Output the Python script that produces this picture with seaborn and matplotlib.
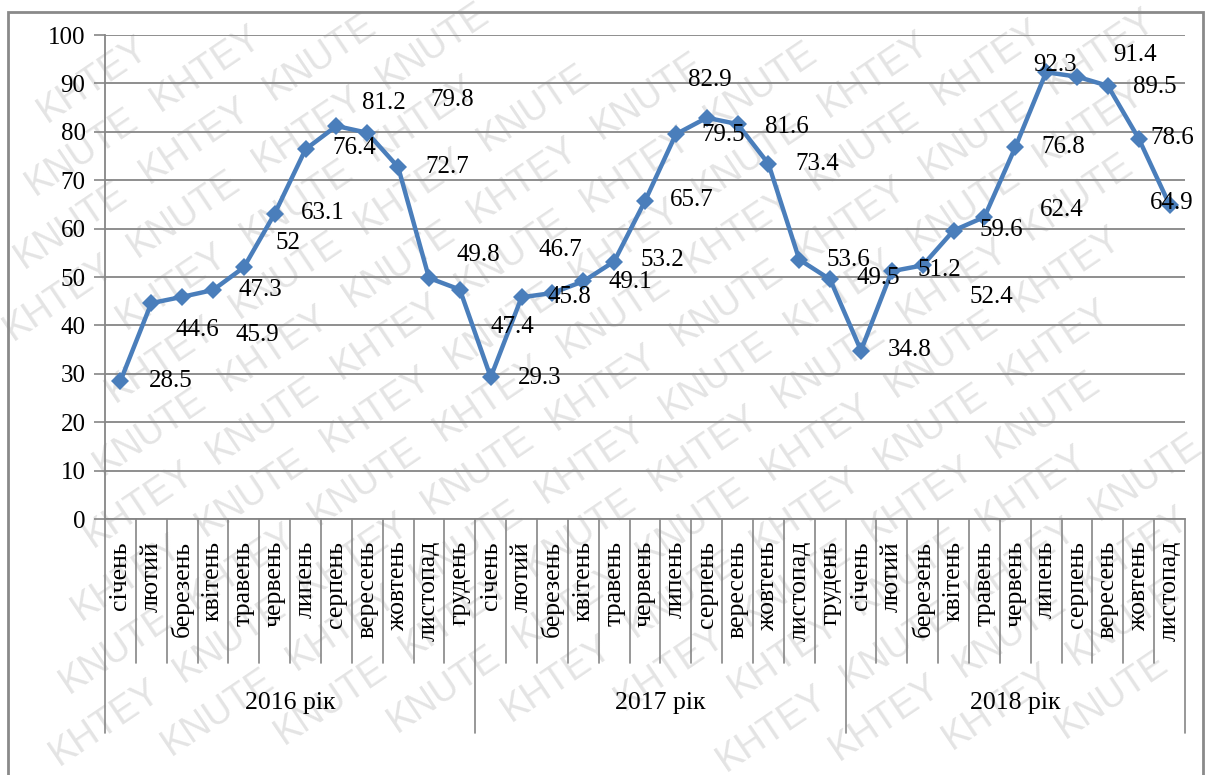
import numpy as np
import pandas as pd
import matplotlib
matplotlib.use("Agg")
import matplotlib.pyplot as plt
import matplotlib.transforms as mtransforms
from matplotlib.patches import Rectangle
import seaborn as sns

# ---- data -------------------------------------------------------------
months_full = ["січень", "лютий", "березень", "квітень", "травень", "червень",
               "липень", "серпень", "вересень", "жовтень", "листопад", "грудень"]
years = ["2016 рік", "2017 рік", "2018 рік"]
months_per_year = [12, 12, 11]

values_2016 = [28.5, 44.6, 45.9, 47.3, 52, 63.1, 76.4, 81.2, 79.8, 72.7, 49.8, 47.4]
values_2017 = [29.3, 45.8, 46.7, 49.1, 53.2, 65.7, 79.5, 82.9, 81.6, 73.4, 53.6, 49.5]
values_2018 = [34.8, 51.2, 52.4, 59.6, 62.4, 76.8, 92.3, 91.4, 89.5, 78.6, 64.9]

y_ticks = [0, 10, 20, 30, 40, 50, 60, 70, 80, 90, 100]

# hand-placed value label offsets (pixels: right, down)
label_offsets_px = [
    (50, 0), (46, 27), (75, 38), (47, 0), (44, -24), (48, -1), (49, -1),
    (47, -23), (85, -33), (49, 0), (49, -23), (53, 37),
    (49, 1), (48, 0), (8, -43), (47, 1), (48, -2), (47, -1), (47, 1),
    (3, -38), (49, 3), (49, 0), (49, 0), (48, -1),
    (49, -1), (48, -1), (69, 32), (48, -1), (77, -7), (48, 0), (9, -7),
    (58, -22), (47, 1), (34, -1), (2, -2),
]

values = values_2016 + values_2017 + values_2018
month_labels = []
year_of_point = []
for y, n in zip(years, months_per_year):
    month_labels += months_full[:n]
    year_of_point += [y] * n
df = pd.DataFrame({"pos": np.arange(len(values)), "value": values,
                   "month": month_labels, "year": year_of_point})

# ---- figure -----------------------------------------------------------
W, H, DPI = 1205, 775, 100
sns.set_theme(style="white")
plt.rcParams["font.family"] = ["Liberation Serif", "DejaVu Serif"]

fig = plt.figure(figsize=(W / DPI, H / DPI), dpi=DPI, facecolor="white")

# diagonal watermark words behind the chart (only whole words inside the page)
angle = 34
theta = np.deg2rad(angle)
ux, uy = np.cos(theta), np.sin(theta)
nx, ny = -np.sin(theta), np.cos(theta)
word_len, word_h = 118, 30
half_w = word_len / 2 * ux + word_h / 2 * uy
half_h = word_len / 2 * uy + word_h / 2 * ux
row_gap, word_step = 54, 150
words = ["KHTEY", "KNUTE"]
for k in range(-22, 23):
    for j in range(-14, 15):
        shift = (k % 3) * 50
        along = j * word_step + shift
        cx = W / 2 + k * row_gap * nx + along * ux
        cy = H / 2 + k * row_gap * ny + along * uy
        if half_w <= cx <= W - half_w and half_h <= cy <= H - half_h:
            fig.text(cx / W, cy / H, words[(j + k) % 2], rotation=angle,
                     rotation_mode="anchor", ha="center", va="center",
                     fontsize=27, color="#e4e4e4", family="Liberation Sans",
                     zorder=-5)

# outer chart frame
fig.patches.append(Rectangle((8 / W, -0.02), (1203 - 8) / W, 1.02 - 12 / H,
                             transform=fig.transFigure, fill=False,
                             edgecolor="#8a8a8a", linewidth=2, zorder=-4))

ax_left, ax_right, ax_top, ax_zero = 105, 1185, 35, 519
ax_h = ax_zero - ax_top
ax = fig.add_axes([ax_left / W, 1 - ax_zero / H,
                   (ax_right - ax_left) / W, ax_h / H])
ax.set_facecolor("none")

line_color = "#4A7EBB"
sns.lineplot(data=df, x="pos", y="value", ax=ax, color=line_color,
             linewidth=3.2, marker="D", markersize=9, markeredgewidth=0,
             zorder=5)

n = len(values)
ax.set_xlim(-0.5, n - 0.5)
ax.set_ylim(0, 100)
ax.set_yticks(y_ticks)
ax.set_yticklabels([str(t) for t in y_ticks], fontsize=18, color="black")
ax.tick_params(axis="y", length=8, width=1.2, color="#868686", pad=6, left=True)
ax.set_xticks([])
ax.set_xlabel("")
ax.set_ylabel("")
ax.grid(axis="y", color="#868686", linewidth=1.3)
ax.grid(axis="x", visible=False)
for side in ["top", "right"]:
    ax.spines[side].set_visible(False)
ax.spines["left"].set_color("#868686")
ax.spines["left"].set_linewidth(1.3)
ax.spines["bottom"].set_color("#868686")
ax.spines["bottom"].set_linewidth(1.3)

# value labels
for i, (v, (dx, dy)) in enumerate(zip(values, label_offsets_px)):
    ax.annotate(f"{v:g}", xy=(i, v), xytext=(dx * 0.72, -dy * 0.72),
                textcoords="offset points", ha="center", va="center",
                fontsize=18, color="black", zorder=6)

# multi-level category axis
trans = mtransforms.blended_transform_factory(ax.transData, ax.transAxes)
def below(px):
    return -px / ax_h

month_line_px = 663 - ax_zero
year_line_px = 733 - ax_zero
boundaries = [0]
for m in months_per_year:
    boundaries.append(boundaries[-1] + m)
for b in range(n + 1):
    depth = year_line_px if b in boundaries else month_line_px
    ax.plot([b - 0.5, b - 0.5], [0, below(depth)], transform=trans,
            color="#868686", linewidth=1.2, clip_on=False)
for i, m in enumerate(month_labels):
    ax.text(i, below(541 - ax_zero), m, transform=trans, rotation=90,
            ha="center", va="top", fontsize=18.5, color="black")
for y, s, e in zip(years, boundaries[:-1], boundaries[1:]):
    ax.text((s + e - 1) / 2, below(703 - ax_zero), y, transform=trans,
            ha="center", va="center", fontsize=18.5, color="black")

fig.savefig("out.png", dpi=DPI, facecolor="white")
